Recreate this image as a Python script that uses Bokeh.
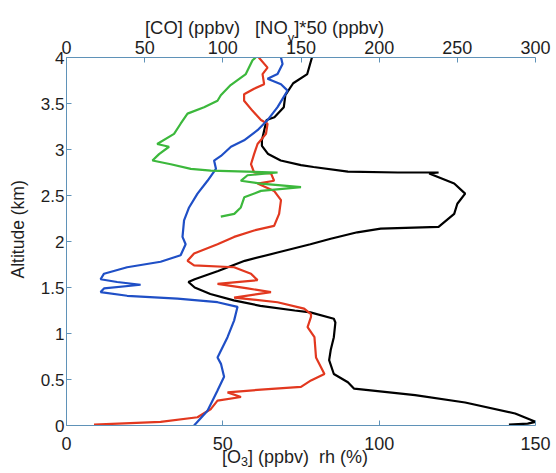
from bokeh.plotting import figure
from bokeh.models import Range1d, LinearAxis, FixedTicker, Div
from bokeh.layouts import column
from bokeh.embed import file_html
from bokeh.resources import INLINE

# ---------------- data ----------------
# bottom axis: [O3] (ppbv), rh (%) ; top axis: [CO] (ppbv), [NOy]*50 (ppbv)
co_alt = [4.00, 3.82, 3.72, 3.59, 3.46, 3.35, 3.32, 3.10, 3.04, 2.95, 2.88, 2.83, 2.81,
          2.76, 2.75, 2.75, 2.74, 2.63, 2.52, 2.41, 2.30, 2.16, 2.14, 2.10, 2.03, 1.97,
          1.88, 1.79, 1.68, 1.59, 1.56, 1.50, 1.43, 1.36, 1.30, 1.25, 1.23, 1.16, 1.12,
          0.96, 0.82, 0.71, 0.56, 0.47, 0.40, 0.33, 0.25, 0.13, 0.04, 0.02, 0.01]
co_val = [157, 154, 145, 140, 139, 133, 128, 125, 125, 129, 137, 150, 158,
          180, 212, 238, 232, 248, 255, 250, 248, 238, 201, 186, 169, 156,
          135, 114, 97, 82, 78, 82, 92, 107, 124, 146, 156, 171, 172,
          171, 169, 168, 171, 180, 184, 223, 255, 287, 300, 295, 283]

o3_alt = [4.00, 3.89, 3.82, 3.71, 3.66, 3.60, 3.53, 3.42, 3.32, 3.28, 3.17, 3.06, 2.95,
          2.84, 2.75, 2.74, 2.66, 2.63, 2.55, 2.45, 2.30, 2.17, 2.12, 2.05, 1.97, 1.87,
          1.79, 1.74, 1.72, 1.65, 1.58, 1.54, 1.49, 1.45, 1.39, 1.34, 1.27, 1.21, 1.18,
          1.07, 0.96, 0.74, 0.56, 0.49, 0.42, 0.39, 0.36, 0.31, 0.27, 0.18, 0.09, 0.04, 0.01]
o3_val = [61.5, 64.3, 62.7, 63.2, 60.0, 56.8, 56.8, 59.5, 62.2, 64.3, 63.8, 61.1, 60.0,
          59.0, 60.0, 65.4, 66.4, 61.1, 66.4, 68.6, 68.0, 66.4, 60.0, 53.6, 48.3, 40.8,
          38.7, 40.8, 53.6, 59.0, 61.1, 48.3, 57.9, 65.4, 53.6, 67.5, 76.0, 78.2, 78.2,
          77.1, 79.3, 79.8, 82.5, 78.2, 75.0, 62.2, 51.5, 55.8, 48.3, 46.2, 41.9, 30.1, 8.8]

rh_alt = [4.00, 3.93, 3.82, 3.77, 3.71, 3.64, 3.55, 3.46, 3.32, 3.21, 3.10, 3.03, 2.93,
          2.88, 2.79, 2.66, 2.52, 2.37, 2.23, 2.05, 1.97, 1.85, 1.78, 1.72, 1.65, 1.59,
          1.56, 1.53, 1.49, 1.45, 1.41, 1.38, 1.34, 1.29, 1.14, 0.96, 0.74, 0.67, 0.53,
          0.38, 0.16, 0.00]
rh_val = [68.6, 69.1, 67.5, 64.3, 68.6, 70.7, 69.1, 67.5, 64.3, 61.1, 56.8, 52.6, 49.4,
          47.2, 47.8, 45.1, 41.9, 39.2, 37.6, 37.1, 38.1, 36.5, 30.1, 19.4, 12.0, 10.9,
          16.2, 23.7, 12.0, 10.9, 19.4, 35.5, 48.3, 54.7, 53.6, 51.5, 48.3, 49.4, 50.4,
          48.3, 45.1, 40.8]

noy_alt = [4.00, 3.97, 3.82, 3.70, 3.59, 3.53, 3.46, 3.39, 3.28, 3.17, 3.06, 3.03, 2.95,
           2.88, 2.84, 2.79, 2.77, 2.75, 2.72, 2.66, 2.63, 2.59, 2.55, 2.48, 2.37, 2.30, 2.27]
noy_val = [121, 119, 114.7, 105, 98.7, 96.6, 88, 77.4, 73, 68.8, 58, 65.6, 59.2,
           55, 66.7, 79.5, 92.3, 135, 115.8, 111.5, 124.4, 150, 124.4, 113.7, 111.5, 107.3, 98.7]

bottom_ticks = [0, 50, 100, 150]
top_ticks = [0, 50, 100, 150, 200, 250, 300]
alt_ticks = [0, 0.5, 1, 1.5, 2, 2.5, 3, 3.5, 4]
alt_tick_labels = ["0", "0.5", "1", "1.5", "2", "2.5", "3", "3.5", "4"]

# ---------------- styling ----------------
FONT = "Liberation Sans"
AX = "#5f92b8"
TXT = "#1e1e1e"

W = 556
TOP_H = 30          # div holding the top title
BOT_H = 16          # div holding the bottom title
ML, MR, MT, MB = 66, 21, 27, 32
FH = 368
FIG_H = MT + FH + MB

p = figure(width=W, height=FIG_H, output_backend="svg", toolbar_location=None,
           x_range=Range1d(0, 150), y_range=Range1d(0, 4),
           min_border_left=ML, min_border_right=MR, min_border_top=MT, min_border_bottom=MB)
p.extra_x_ranges = {"top": Range1d(0, 300)}
top_axis = LinearAxis(x_range_name="top")
p.add_layout(top_axis, "above")

p.xgrid.visible = False
p.ygrid.visible = False
p.outline_line_color = None
p.background_fill_color = "white"
p.border_fill_color = None

bottom_axis = p.below[0]
left_axis = p.left[0]
bottom_axis.ticker = FixedTicker(ticks=bottom_ticks)
top_axis.ticker = FixedTicker(ticks=top_ticks)
left_axis.ticker = FixedTicker(ticks=alt_ticks)
left_axis.major_label_overrides = {t: s for t, s in zip(alt_ticks, alt_tick_labels)}

for ax, so, fs in ((bottom_axis, 11, "18px"), (top_axis, 4, "18px"), (left_axis, 2, "17px")):
    ax.axis_line_color = AX
    ax.axis_line_width = 1
    ax.major_tick_line_color = AX
    ax.major_tick_in = 5
    ax.major_tick_out = 0
    ax.minor_tick_line_color = None
    ax.major_label_text_font = FONT
    ax.major_label_text_font_size = fs
    ax.major_label_text_color = TXT
    ax.major_label_standoff = so
    ax.axis_label = None

left_axis.axis_label = "\u00a0" * 5 + "Altitude (km)"
left_axis.axis_label_text_font = FONT
left_axis.axis_label_text_font_size = "17.5px"
left_axis.axis_label_text_font_style = "normal"
left_axis.axis_label_text_color = TXT
left_axis.axis_label_standoff = 10

# ---------------- lines ----------------
LW = 2.2
p.line(co_val, co_alt, x_range_name="top", line_color="#000000", line_width=LW)
p.line(o3_val, o3_alt, line_color="#e2381f", line_width=LW)
p.line(rh_val, rh_alt, line_color="#1f4fc6", line_width=LW)
p.line(noy_val, noy_alt, x_range_name="top", line_color="#3cb83c", line_width=LW)

# ---------------- axis titles with subscripts (HTML text) ----------------
def span(inner, left, top):
    return (f'<span style="position:absolute;left:{left}px;top:{top}px;white-space:nowrap;'
            f'line-height:1;">{inner}</span>')

def title_div(spans, height, size):
    html = (f'<div style="position:relative;width:{W}px;height:{height}px;overflow:visible;'
            f'font-family:\'{FONT}\';font-size:{size}px;color:{TXT};">' + "".join(spans) + '</div>')
    return Div(text=html, width=W, height=height, margin=(0, 0, 0, 0),
               styles={"overflow": "visible", "z-index": "2"})

def sub(t, size, drop):
    return (f'<span style="font-size:{size}px;position:relative;top:{drop}px;">{t}</span>')

top_div = title_div([span("[CO] (ppbv)", 145, 19),
                     span("[NO" + sub("y", 13, 8) + "]*50 (ppbv)", 255, 19)],
                    TOP_H, 18.4)
bot_div = title_div([span("[O" + sub("3", 12.5, 3) + "] (ppbv)&nbsp; rh (%)", 222, -9)],
                    BOT_H, 18)

layout = column(top_div, p, bot_div, spacing=0)
open("out.html", "w").write(file_html(layout, INLINE))
